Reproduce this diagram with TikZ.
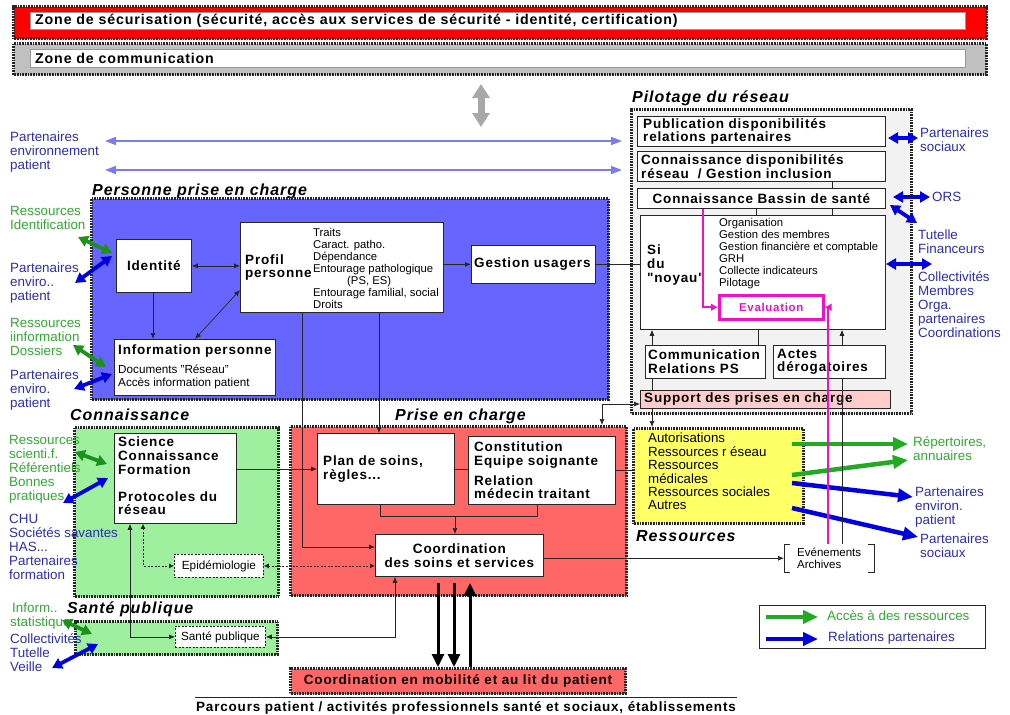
\documentclass[tikz,border=0pt]{standalone}
\usepackage{fontspec}
\setmainfont{Liberation Sans}
\newfontfamily\widesans[LetterSpace=6]{Liberation Sans}
\usetikzlibrary{arrows.meta}

\definecolor{secred}{HTML}{FF0000}
\definecolor{comgray}{HTML}{C0C0C0}
\definecolor{persblue}{HTML}{6666FF}
\definecolor{carered}{HTML}{FF6666}
\definecolor{knowgreen}{HTML}{9EF09E}
\definecolor{resyellow}{HTML}{FFFF66}
\definecolor{pilotgray}{HTML}{F2F2F2}
\definecolor{suppink}{HTML}{FFCCCC}
\definecolor{evalmag}{HTML}{EE11CC}
\definecolor{txtblue}{HTML}{2E2EB0}
\definecolor{txtgreen}{HTML}{33AA33}
\definecolor{arrblue}{HTML}{0000E0}
\definecolor{arrgreen}{HTML}{22AA22}
\definecolor{lavender}{HTML}{7C7CEE}
\definecolor{updown}{HTML}{A8A8A8}

\tikzset{
  hatch/.style={draw=black!85, line width=3pt, dash pattern=on 0.8pt off 0.8pt},
  area/.style={hatch, anchor=north west, inner sep=0pt},
  sz/.style 2 args={minimum width=#1, minimum height=#2},
  box/.style={draw=black!85, line width=0.8pt, fill=white, anchor=north west, inner sep=0pt},
  dbox/.style={box, dash pattern=on 2pt off 1.5pt, font=\fontsize{11.8}{12}\selectfont},
  bt/.style={font=\widesans\bfseries\fontsize{13.5}{13.6}\selectfont},
  st/.style={font=\fontsize{11.3}{12}\selectfont},
  ttl/.style={anchor=base west, inner sep=0pt, font=\widesans\bfseries\itshape\fontsize{16}{18}\selectfont},
  lbl/.style={anchor=north west, inner sep=0pt, align=left, font=\fontsize{13.4}{14}\selectfont},
  blbl/.style={lbl, text=txtblue},
  glbl/.style={lbl, text=txtgreen},
  txt/.style={anchor=north west, inner sep=0pt, align=left},
  inl/.style={anchor=west, inner sep=0pt, align=left},
  link/.style={draw=black!85, line width=0.7pt},
  arr/.style={link, -{Latex[length=6pt,width=5pt]}},
  arrboth/.style={link, {Latex[length=6pt,width=5pt]}-{Latex[length=6pt,width=5pt]}},
  dasharr/.style={link, dash pattern=on 2pt off 1.5pt, {Latex[length=5pt,width=5pt]}-{Latex[length=5pt,width=5pt]}},
  fatboth/.style={line width=3.8pt, {Triangle[length=10pt,width=11pt]}-{Triangle[length=10pt,width=11pt]}},
  fat/.style={line width=4.5pt, -{Triangle[length=15pt,width=13pt]}},
  evalarr/.style={draw=evalmag, line width=1.6pt, -{Latex[length=7pt,width=8pt]}},
  lavarr/.style={draw=lavender, line width=1.6pt, {Triangle[length=11pt,width=8pt]}-{Triangle[length=11pt,width=8pt]}},
  bigarr/.style={draw=black, line width=3pt, -{Triangle[length=13pt,width=12pt]}},
}

\begin{document}
\begin{tikzpicture}[x=1pt, y=-1pt]
\useasboundingbox (0,0) rectangle (1010,715);
\fill[white] (0,0) rectangle (1010,715);

% ---------- security and communication zones ----------
\node[area, fill=secred, sz={973pt}{32pt}] (zsec) at (12,5) {};
\node[box, draw=black!40, sz={935pt}{17pt}] (zsecbar) at (30,12) {};
\node[inl, font=\widesans\bfseries\fontsize{14.2}{14}\selectfont] (zsect) at ([xshift=5pt]zsecbar.west) {Zone de sécurisation (sécurité, accès aux services de sécurité - identité, certification)};
\node[area, fill=comgray, sz={973pt}{31pt}] (zcom) at (12,42) {};
\node[box, draw=black!40, sz={935pt}{18pt}] (zcombar) at (30,49) {};
\node[inl, font=\widesans\bfseries\fontsize{14.2}{14}\selectfont] (zcomt) at ([xshift=5pt]zcombar.west) {Zone de communication};

% exchange with the zones
\coordinate (udtop) at (481,84);
\coordinate (udbot) at (481,127);
\draw[updown, line width=7pt, {Triangle[length=14pt,width=17pt]}-{Triangle[length=14pt,width=17pt]}] (udtop) -- (udbot);

% ---------- network steering ----------
\node[ttl] (tpil) at (632,102) {Pilotage du réseau};
\node[area, fill=pilotgray, sz={280pt}{304pt}] (pil) at (630,108) {};
\node[box, sz={248pt}{30pt}] (pub) at (637,116) {};
\node[inl, bt] (pubt) at ([xshift=6pt]pub.west) {Publication disponibilités\\relations partenaires};
\node[box, sz={248pt}{30pt}] (cdisp) at (637,151) {};
\node[inl, bt] (cdispt) at ([xshift=4pt]cdisp.west) {Connaissance disponibilités\\réseau~ / Gestion inclusion};
\node[box, bt, sz={248pt}{20pt}] (bassin) at (637,188) {Connaissance Bassin de santé};
\node[box, sz={245pt}{114pt}] (si) at (640,215) {};
\node[txt, bt] (sit) at (647,245) {Si\\du\\"noyau"};
\node[txt, st] (sil) at (719,218) {Organisation\\Gestion des membres\\Gestion financière et comptable\\GRH\\Collecte indicateurs\\Pilotage};
\node[box, draw=evalmag, line width=2.5pt, sz={104pt}{24pt}, text=evalmag, font=\widesans\bfseries\fontsize{11.5}{12}\selectfont] (eval) at (718,294) {Evaluation};
\node[box, sz={120pt}{33pt}] (comm) at (645,345) {};
\node[inl, bt] (commt) at ([xshift=3pt]comm.west) {Communication\\Relations PS};
\node[box, sz={112pt}{33pt}] (actes) at (773,345) {};
\node[inl, bt] (actest) at ([xshift=4pt]actes.west) {Actes\\dérogatoires};
\node[box, fill=suppink, sz={250pt}{18pt}] (supp) at (640,390) {};
\node[inl, bt] (suppt) at ([xshift=4pt]supp.west) {Support des prises en charge};

% ---------- person in care ----------
\node[ttl] (tpers) at (92,195) {Personne prise en charge};
\node[area, fill=persblue, sz={517pt}{201pt}] (pers) at (90,197) {};
\node[box, bt, sz={75pt}{53pt}] (ident) at (116,239) {Identité};
\node[box, sz={203pt}{90pt}] (profil) at (240,222) {};
\node[inl, bt] (profilt) at ([xshift=5pt]profil.west) {Profil\\personne};
\node[txt, st] (profill) at (313,228) {Traits\\Caract. patho.\\Dépendance\\Entourage pathologique\\\hspace*{34pt}(PS, ES)\\Entourage familial, social\\Droits};
\node[box, sz={124pt}{38pt}] (gest) at (471,245) {};
\node[inl, bt] (gestt) at ([xshift=3pt]gest.west) {Gestion usagers};
\node[box, sz={161pt}{56pt}] (info) at (114,339) {};
\node[txt, bt] (infot) at (118,345) {Information personne};
\node[txt, font=\fontsize{11.7}{13}\selectfont] (infod) at (118,365) {Documents "Réseau"\\Accès information patient};

% ---------- knowledge ----------
\node[ttl] (tcon) at (70,420) {Connaissance};
\node[area, fill=knowgreen, sz={204pt}{169pt}] (conn) at (73,426) {};
\node[box, sz={122pt}{90pt}] (sci) at (114,433) {};
\node[txt, bt] (scit) at (118,437) {Science\\Connaissance\\Formation\\[13.6pt]Protocoles du\\réseau};
\node[dbox, sz={89pt}{23pt}] (epi) at (174,554) {Epidémiologie};

% ---------- public health ----------
\node[ttl] (tsp) at (67,613) {Santé publique};
\node[area, fill=knowgreen, sz={202pt}{33pt}] (spz) at (74,620) {};
\node[dbox, sz={90pt}{21pt}] (sp) at (175,626) {Santé publique};

% ---------- care ----------
\node[ttl] (tpec) at (395,420) {Prise en charge};
\node[area, fill=carered, sz={336pt}{169pt}] (pec) at (289,425) {};
\node[box, sz={137pt}{71pt}] (plan) at (317,433) {};
\node[inl, bt] (plant) at ([xshift=6pt]plan.west) {Plan de soins,\\règles...};
\node[box, sz={147pt}{68pt}] (const) at (468,436) {};
\node[inl, bt] (constt) at ([xshift=6pt]const.west) {Constitution\\Equipe soignante\\[6pt]Relation\\médecin traitant};
\node[box, bt, sz={168pt}{42pt}, align=center] (coord) at (375,534) {Coordination\\des soins et services};

% ---------- resources ----------
\node[area, fill=resyellow, sz={170pt}{95pt}] (res) at (632,427) {};
\node[txt, font=\fontsize{13.3}{13.4}\selectfont] (rest) at (648,433) {Autorisations\\Ressources r éseau\\Ressources\\médicales\\Ressources sociales\\Autres};
\node[ttl] (tres) at (636,541) {Ressources};

% events and archives, bracketed
\node[anchor=north west, inner xsep=13pt, inner ysep=4pt, align=left, font=\fontsize{11.5}{11.5}\selectfont] (evt) at (784,544) {Evénements\\Archives};
\draw[link] ([xshift=6pt]evt.north west) -- (evt.north west) -- (evt.south west) -- ([xshift=6pt]evt.south west);
\draw[link] ([xshift=-6pt]evt.north east) -- (evt.north east) -- (evt.south east) -- ([xshift=-6pt]evt.south east);

% ---------- mobility and care path ----------
\node[area, fill=carered, sz={335pt}{25pt}, bt] (mob) at (289,667) {Coordination en mobilité et au lit du patient};
\coordinate (rulel) at (195,697);
\coordinate (ruler) at (737,697);
\draw[black!85, line width=0.8pt] (rulel) -- (ruler);
\node[anchor=base, inner sep=0pt, bt] (parc) at (466,711) {Parcours patient / activités professionnels santé et sociaux, établissements};

% ---------- external partners, left ----------
\node[blbl] (lpep) at (10,132) {Partenaires\\environnement\\patient};
\node[glbl] (lrid) at (10,206) {Ressources\\Identification};
\node[blbl] (lpe1) at (10,263) {Partenaires\\enviro..\\patient};
\node[glbl] (lrin) at (10,318) {Ressources\\iinformation\\Dossiers};
\node[blbl] (lpe2) at (10,370) {Partenaires\\enviro.\\patient};
\node[glbl] (lrsc) at (9,435) {Ressources\\scienti.f.\\Référentiels\\Bonnes\\pratiques};
\node[blbl] (lchu) at (9,514) {CHU\\Sociétés savantes\\HAS...\\Partenaires\\formation};
\node[glbl] (linf) at (10,603) {\hspace*{2pt}Inform..\\statistique};
\node[blbl] (lcol) at (10,633) {Collectivités\\Tutelle\\Veille};

% ---------- external partners, right ----------
\node[blbl] (rps1) at (920,128) {Partenaires\\sociaux};
\node[blbl] (rors) at (932,192) {ORS};
\node[blbl] (rtut) at (918,230) {Tutelle\\Financeurs};
\node[blbl] (rcol) at (918,271) {Collectivités\\Membres\\Orga.\\partenaires\\Coordinations};
\node[glbl] (rrep) at (913,436) {Répertoires,\\annuaires};
\node[blbl] (rpep) at (915,487) {Partenaires\\environ.\\patient};
\node[blbl] (rps2) at (920,534) {Partenaires\\sociaux};

% ---------- legend ----------
\node[box, sz={226pt}{43pt}] (leg) at (759,605) {};
\coordinate (lgx1) at (766,617); \coordinate (lgx2) at (818,617);
\coordinate (lbx1) at (766,639); \coordinate (lbx2) at (818,639);
\draw[fat, arrgreen, line width=4pt] (lgx1) -- (lgx2);
\draw[fat, arrblue, line width=4pt] (lbx1) -- (lbx2);
\node[anchor=west, inner sep=0pt, text=txtgreen, font=\fontsize{13.4}{14}\selectfont] (legg) at (827,616) {Accès à des ressources};
\node[anchor=west, inner sep=0pt, text=txtblue, font=\fontsize{13.4}{14}\selectfont] (legb) at (828,638) {Relations partenaires};

% ---------- partner exchanges ----------
\coordinate (lv1a) at (105,141); \coordinate (lv1b) at (622,141);
\coordinate (lv2a) at (105,170); \coordinate (lv2b) at (622,170);
\draw[lavarr] (lv1a) -- (lv1b);
\draw[lavarr] (lv2a) -- (lv2b);

\coordinate (g1a) at (78,237);  \coordinate (g1b) at (112,253);
\coordinate (b1a) at (75,283);  \coordinate (b1b) at (112,256);
\coordinate (g2a) at (73,345);  \coordinate (g2b) at (106,367);
\coordinate (b2a) at (74,389);  \coordinate (b2b) at (112,374);
\coordinate (g3a) at (75,452);  \coordinate (g3b) at (107,464);
\coordinate (b3a) at (63,503);  \coordinate (b3b) at (108,478);
\coordinate (g4a) at (62,620);  \coordinate (g4b) at (92,634);
\coordinate (b4a) at (52,668);  \coordinate (b4b) at (98,644);
\draw[fatboth, arrgreen!85!black] (g1a) -- (g1b);
\draw[fatboth, arrblue] (b1a) -- (b1b);
\draw[fatboth, arrgreen!85!black] (g2a) -- (g2b);
\draw[fatboth, arrblue] (b2a) -- (b2b);
\draw[fatboth, arrgreen!85!black] (g3a) -- (g3b);
\draw[fatboth, arrblue] (b3a) -- (b3b);
\draw[fatboth, arrgreen!85!black] (g4a) -- (g4b);
\draw[fatboth, arrblue] (b4a) -- (b4b);

\coordinate (r1a) at (888,138); \coordinate (r1b) at (918,138);
\coordinate (r2a) at (893,197); \coordinate (r2b) at (930,197);
\coordinate (r3a) at (890,205); \coordinate (r3b) at (917,223);
\coordinate (r4a) at (886,264); \coordinate (r4b) at (932,264);
\draw[fatboth, arrblue] (r1a) -- (r1b);
\draw[fatboth, arrblue] (r2a) -- (r2b);
\draw[fatboth, arrblue] (r3a) -- (r3b);
\draw[fatboth, arrblue] (r4a) -- (r4b);

\coordinate (ga) at (792,444); \coordinate (gb) at (908,444);
\coordinate (gc) at (792,475); \coordinate (gd) at (908,460);
\coordinate (ba) at (792,483); \coordinate (bb) at (913,497);
\coordinate (bc) at (792,508); \coordinate (bd) at (918,537);
\draw[fat, arrgreen] (ga) -- (gb);
\draw[fat, arrgreen] (gc) -- (gd);
\draw[fat, arrblue] (ba) -- (bb);
\draw[fat, arrblue] (bc) -- (bd);

% ---------- connectors: person in care ----------
\draw[arrboth] (ident.east) -- (ident.east -| profil.west);
\draw[arr] (ident.south -| 153,0) -- (info.north -| 153,0);
\draw[arrboth] (info.north -| 195,0) -- (profil.west |- 0,290);
\draw[arr] (profil.east |- gest.west) -- (gest.west);
\draw[link] (gest.east) -- (gest.east -| si.west);
\draw[arr] (profil.south -| 302,0) |- (coord.west |- 0,547);
\draw[arr] (profil.south -| 379,0) -- (plan.north -| 379,0);

% ---------- connectors: knowledge and public health ----------
\draw[arr] (sci.east |- 0,469) -- (plan.west |- 0,469);
\draw[dasharr] (sci.south -| 143,0) |- (epi.west);
\draw[dasharr] (epi.east) -- (epi.east -| coord.west);
\draw[arrboth] (sci.south -| 130,0) |- (sp.west);
\draw[arrboth] (coord.south -| 395,0) |- (sp.east);

% ---------- connectors: care ----------
\coordinate (join) at (455,516);
\draw[link] (plan.east) -- (plan.east -| const.west);
\draw[link] (plan.south -| 380,0) -- (380,516) -| (const.south -| 537,0);
\draw[arr] (join) -- (coord.north -| join);
\draw[link] (const.east) -- (const.east -| res.west);
\draw[arr] (coord.east |- evt.west) -- (evt.west);
\draw[arrboth] (pec.north -| 602,0) |- (supp.west |- 0,404);

\coordinate (m1) at (438,583); \coordinate (m2) at (454,583); \coordinate (m3) at (470,583);
\draw[bigarr] (m1) -- (mob.north -| m1);
\draw[bigarr] (m2) -- (mob.north -| m2);
\draw[bigarr] (mob.north -| m3) -- (m3);

% ---------- connectors: steering ----------
\draw[link] (cdisp.south -| 832,0) -- (bassin.north -| 832,0);
\draw[link] (bassin.south -| 756,0) -- (si.north -| 756,0);
\draw[link] (bassin.south -| 832,0) -- (si.north -| 832,0);
\draw[arr] (comm.north -| 652,0) -- (si.south -| 652,0);
\draw[link] (si.south -| 758,0) -- (comm.north -| 758,0);
\draw[link] (comm.south -| 652,0) -- (supp.north -| 652,0);
\draw[arr] (supp.south -| 652,0) -- (res.north -| 652,0);
\draw[link] (evt.north -| 842,0) -- (actes.south -| 842,0);
\draw[arr] (actes.north -| 842,0) -- (si.south -| 842,0);
\draw[evalarr] (bassin.south -| 703,0) |- (eval.west);
\draw[evalarr] (evt.north -| 828,0) |- (eval.east);
\end{tikzpicture}
\end{document}
